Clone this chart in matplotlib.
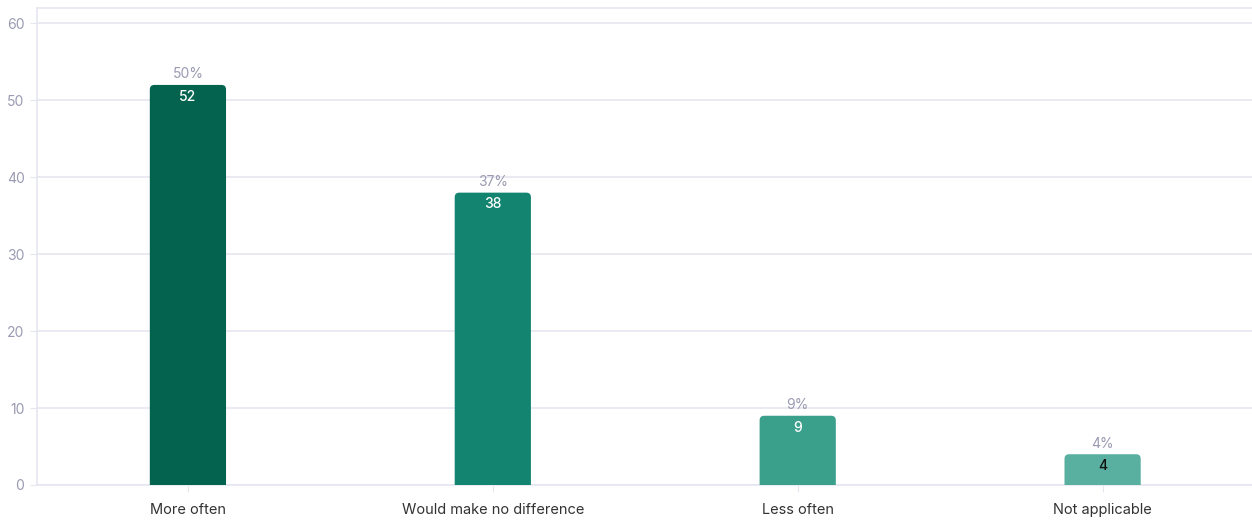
import matplotlib
matplotlib.use('Agg')
import matplotlib.pyplot as plt
from matplotlib.patches import FancyBboxPatch

# ---[DATA]---
categories = ['More often', 'Would make no difference', 'Less often', 'Not applicable']
counts = [52, 38, 9, 4]
percents = ['50%', '37%', '9%', '4%']
bar_colors = ['#03634f', '#13846f', '#3aa08c', '#59afa0']
count_colors = ['white', 'white', 'white', '#111111']
# ------------

plt.rcParams['font.family'] = ['Inter', 'DejaVu Sans']

fig = plt.figure(figsize=(12.52, 5.2), dpi=100)
ax = fig.add_axes([37 / 1252, 1 - 485 / 520, 1 - 37 / 1252, (485 - 8) / 520])

grid_c = '#e6e6f0'
tick_c = '#9a9ab2'

bars = ax.bar(range(len(categories)), counts, width=0.25, color=bar_colors)
# swap plain rectangles for rounded-top ones
for b, c in zip(bars, bar_colors):
    b.set_visible(False)
    x, w, h = b.get_x(), b.get_width(), b.get_height()
    ax.add_patch(FancyBboxPatch((x, -2), w, h + 2,
                                boxstyle='round,pad=0,rounding_size=0.015',
                                mutation_aspect=40, facecolor=c,
                                edgecolor='none', zorder=3))

for i, (v, p, tc) in enumerate(zip(counts, percents, count_colors)):
    ax.annotate(p, (i, v), xytext=(0, 2.5), textcoords='offset points',
                ha='center', va='bottom', fontsize=10, color=tick_c, zorder=4)
    ax.annotate(str(v), (i, v), xytext=(0, -8.5), textcoords='offset points',
                ha='center', va='center', fontsize=10, color=tc,
                fontweight='medium', zorder=4)

ax.set_xlim(-0.495, 3.49)
ax.set_ylim(0, 62)
ax.set_yticks(range(0, 61, 10))
ax.set_xticks(range(len(categories)))
ax.set_xticklabels(categories, fontsize=10.5, color='#333333')
ax.tick_params(axis='y', labelsize=10, labelcolor=tick_c, color=grid_c, length=5, pad=4)
ax.tick_params(axis='x', color=grid_c, length=5, pad=8)
ax.grid(axis='y', color=grid_c, linewidth=1.2, zorder=0)
ax.set_axisbelow(True)
for s in ['left', 'top', 'bottom']:
    ax.spines[s].set_color(grid_c)
    ax.spines[s].set_linewidth(1.2)
ax.spines['right'].set_visible(False)

fig.savefig('out.png', dpi=100, facecolor='white')
